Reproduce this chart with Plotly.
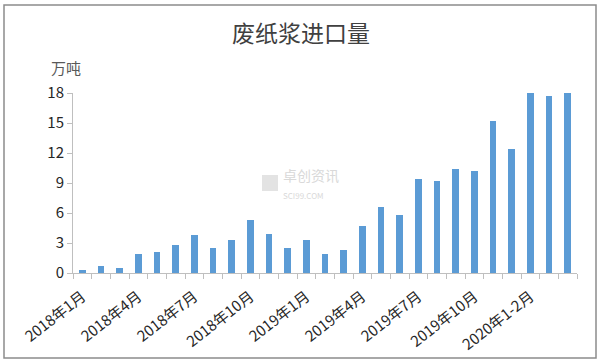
import plotly.graph_objects as go

months = ["2018年1月","2018年2月","2018年3月","2018年4月","2018年5月","2018年6月","2018年7月",
          "2018年8月","2018年9月","2018年10月","2018年11月","2018年12月",
          "2019年1月","2019年2月","2019年3月","2019年4月","2019年5月","2019年6月","2019年7月",
          "2019年8月","2019年9月","2019年10月","2019年11月","2019年12月",
          "2020年1-2月","2020年3月","2020年4月"]
values = [0.34, 0.67, 0.47, 1.94, 2.07, 2.77, 3.80, 2.54, 3.27, 5.27, 3.87, 2.54,
          3.34, 1.90, 2.27, 4.74, 6.57, 5.77, 9.37, 9.24, 10.40, 10.17, 15.20, 12.37,
          17.97, 17.67, 17.97]
y_ticks = [0, 3, 6, 9, 12, 15, 18]

idx = list(range(len(months)))
label_idx = idx[::3]

L, R, T, B = 73, 25, 93, 90
PW = 602 - L - R
PH = 363 - T - B

def px(x):
    return (x - L) / PW

def py(y):
    return (363 - B - y) / PH

fig = go.Figure(go.Bar(x=idx, y=values, width=0.34, marker=dict(color="#5B9BD5", line=dict(width=0))))

fig.update_layout(
    width=602, height=363,
    margin=dict(l=L, r=R, t=T, b=B, autoexpand=False),
    paper_bgcolor="white", plot_bgcolor="white",
    font=dict(family="Noto Sans CJK SC, sans-serif", color="#262626"),
    showlegend=False,
    title=dict(text="废纸浆进口量", x=0.5, xanchor="center", y=1 - 34/363, yanchor="middle",
               font=dict(size=23, color="#404040")),
    bargap=0,
)
fig.update_xaxes(
    automargin=False,
    range=[-0.5, len(months) - 0.5],
    tickmode="array", tickvals=label_idx, ticktext=[months[i] for i in label_idx],
    tickangle=-38, ticks="", ticklabelstandoff=8, tickfont=dict(size=15, color="#262626"),
    showline=True, linecolor="#BFBFBF", linewidth=1, showgrid=False, zeroline=False,
    minor=dict(tickmode="array", tickvals=[i - 0.5 for i in range(len(months) + 1)],
               ticks="outside", ticklen=5, tickcolor="#BFBFBF", showgrid=False),
)
fig.update_yaxes(
    automargin=False,
    range=[0, 18], tickmode="array", tickvals=y_ticks,
    ticks="outside", ticklen=5, tickcolor="#BFBFBF", tickfont=dict(size=15, color="#262626"),
    showline=True, linecolor="#BFBFBF", linewidth=1, showgrid=False, zeroline=False,
)

fig.add_annotation(text="万吨", xref="paper", yref="paper", x=px(66), y=py(67),
                   showarrow=False, font=dict(size=15, color="#595959"), xanchor="center", yanchor="middle")
# watermark
fig.add_annotation(text="卓创资讯<br><span style='font-size:8px'>SCI99.COM</span>", xref="paper", yref="paper",
                   x=px(281), y=py(183), align="left",
                   showarrow=False, font=dict(size=14, color="#D9D9D9"), xanchor="left", yanchor="middle")
fig.add_shape(type="rect", xref="paper", yref="paper",
              x0=px(262), x1=px(278), y0=py(191), y1=py(175),
              fillcolor="#E3E3E3", line=dict(width=0))
# outer border
fig.add_shape(type="rect", xref="paper", yref="paper",
              x0=px(4), x1=px(596), y0=py(358), y1=py(5),
              line=dict(color="#8C8C8C", width=1.5), fillcolor="rgba(0,0,0,0)")

fig.write_html("out.html", config={"displayModeBar": False},
               post_script="document.body.style.margin='0';document.body.style.overflow='hidden';")
